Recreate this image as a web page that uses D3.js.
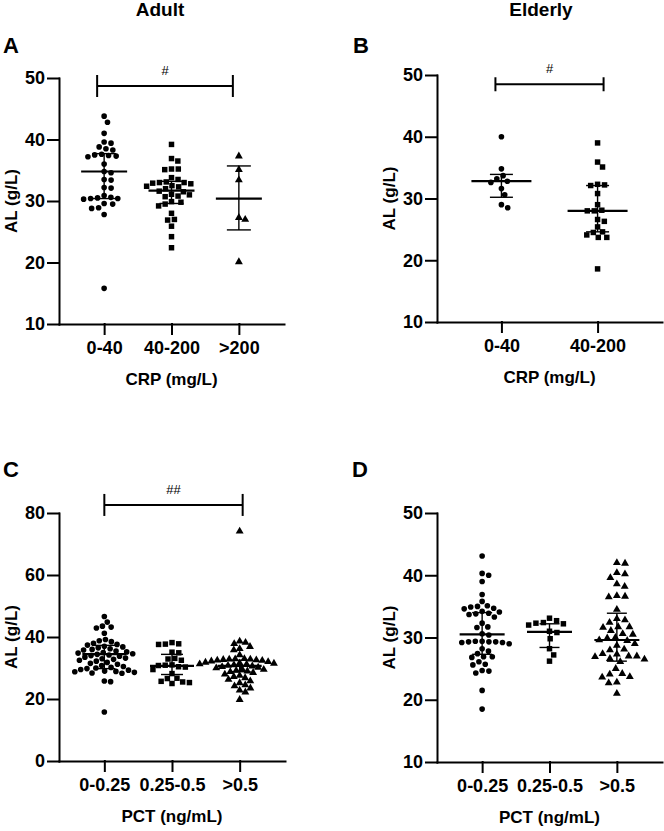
<!DOCTYPE html>
<html lang="en">
<head>
<meta charset="UTF-8">
<script src="https://cdn.jsdelivr.net/npm/d3@7"></script>
<title>AL by CRP / PCT</title>
<style>
    body{ margin:0; background:#fff; }
    svg text{ font-family: Arial, "Liberation Sans", sans-serif; font-weight: bold; fill:#000; }
    .axis path, .axis line{ stroke:#000; stroke-width:2px; stroke-linecap:square; }
    .axis text{ font-size:18px; }
</style>
</head>
<body>
<svg id="chart" width="664" height="831"></svg>
<script>
    // categories
    var crpAdultCats = ["0-40", "40-200", ">200"];
    var crpElderCats = ["0-40", "40-200"];
    var pctCats = ["0-0.25", "0.25-0.5", ">0.5"];

    // A: adult, CRP
    var adultCrp040 = [43.8, 42.8, 41.0, 39.6, 39.4, 38.8, 38.5, 38.3, 37.6, 37.5, 37.4, 37.3, 37.2, 36.0, 34.8, 34.6,
        33.5, 33.4, 32.2, 32.1, 30.9, 30.6, 30.5, 30.4, 30.4, 30.3, 29.6, 29.5, 28.9, 28.8, 27.8, 15.8];
    var adultCrp40200 = [39.2, 36.9, 36.5, 35.2, 35.2, 35.1, 33.8, 33.5, 33.1, 33.0, 33.0, 32.9, 32.8, 32.5, 32.4, 32.3,
        32.0, 31.6, 31.5, 31.1, 31.0, 30.8, 30.7, 29.9, 29.8, 29.5, 29.2, 28.0, 27.0, 26.9, 25.9, 24.2, 22.4];
    var adultCrp200 = [37.3, 35.1, 33.4, 27.3, 27.0, 20.1];
    var adultCrpMid = [34.8, 31.7, 30.4];
    var adultCrpLow = [30.4, 29.6, 25.3];
    var adultCrpHigh = [37.7, 33.2, 35.7];

    // B: elderly, CRP
    var elderCrp040 = [40.0, 34.8, 33.7, 33.2, 32.8, 32.6, 31.6, 30.6, 29.0, 28.5];
    var elderCrp40200 = [39.0, 35.9, 35.1, 32.3, 32.2, 32.1, 30.8, 29.0, 28.1, 28.0, 28.0, 26.6, 26.3, 25.4, 24.6, 24.5,
        24.1, 23.7, 23.7, 18.6];
    var elderCrpMid = [32.8, 28.0];
    var elderCrpLow = [30.2, 24.6];
    var elderCrpHigh = [33.9, 32.1];

    // C: adult, PCT
    var adultPct1 = [46.6, 44.8, 43.5, 43.2, 42.9, 41.2, 39.2, 38.8, 38.5, 38.0, 37.6, 37.4, 37.0, 36.8, 36.5, 36.2, 36.0,
        35.8, 35.5, 35.2, 35.0, 34.8, 34.6, 34.4, 34.2, 34.0, 33.8, 33.5, 33.2, 33.0, 32.8, 32.5, 32.2, 31.8, 31.5, 31.2,
        30.8, 30.5, 30.2, 30.0, 29.8, 29.5, 29.3, 29.0, 28.9, 28.8, 28.6, 28.4, 28.3, 25.8, 25.6, 15.8];
    var adultPct2 = [38.2, 37.8, 37.7, 37.6, 35.1, 34.9, 33.1, 32.9, 32.5, 31.0, 30.9, 30.8, 30.4, 30.3, 29.5, 28.2, 26.7,
        26.6, 25.7, 25.5, 25.3, 25.0];
    var adultPct3 = [74.1, 38.6, 38.2, 37.8, 36.9, 36.2, 35.8, 34.2, 33.0, 32.9, 32.8, 32.8, 32.7, 32.6, 32.5, 32.4, 32.2,
        32.0, 31.8, 31.6, 31.5, 31.3, 31.2, 31.0, 30.8, 30.6, 30.4, 30.2, 30.0, 29.8, 29.5, 29.2, 29.0, 28.8, 28.5, 28.0,
        27.6, 27.2, 26.8, 26.3, 25.8, 25.2, 24.5, 24.2, 23.5, 22.8, 22.2, 19.8];
    var adultPctMid = [34.5, 30.7, 30.7];
    var adultPctLow = [29.8, 27.9, 28.8];
    var adultPctHigh = [37.3, 34.4, 32.5];

    // D: elderly, PCT
    var elderPct1 = [43.1, 40.3, 40.0, 39.0, 36.9, 35.8, 35.1, 35.0, 34.9, 34.7, 34.6, 34.2, 34.1, 33.9, 33.8, 33.7, 33.3,
        32.3, 31.7, 31.6, 30.6, 30.4, 29.4, 29.3, 29.3, 29.2, 29.3, 29.4, 29.2, 29.0, 28.2, 27.8, 27.4, 26.9, 26.9, 26.8,
        26.1, 25.7, 25.6, 24.7, 24.6, 24.3, 21.5, 18.5];
    var elderPct2 = [33.1, 32.7, 32.4, 32.3, 32.2, 32.0, 31.0, 30.8, 29.8, 28.2, 27.2, 26.2];
    var elderPct3 = [42.0, 41.9, 40.4, 40.2, 39.6, 38.6, 38.2, 36.7, 36.6, 36.5, 34.5, 33.0, 32.8, 32.4, 31.7, 31.7, 31.6,
        31.1, 30.6, 30.5, 30.0, 29.9, 29.6, 29.5, 29.0, 28.7, 28.1, 28.0, 27.4, 27.3, 27.0, 27.0, 26.9, 26.6, 26.5, 26.1,
        25.0, 24.2, 24.1, 23.7, 23.6, 22.8, 22.7, 21.0];
    var elderPctMid = [30.5, 30.9, 29.6];
    var elderPctLow = [27.3, 28.4, 26.2];
    var elderPctHigh = [34.0, 32.2, 33.9];

    var ticks10to50 = [10, 20, 30, 40, 50];
    var ticks0to80 = [0, 20, 40, 60, 80];

    var shapes = [d3.symbolCircle, d3.symbolSquare, d3.symbolTriangle];
    var shapeSize = [25, 30, 27];

    var svg = d3.select("#chart");

    // simple beeswarm: put each point as near the centre as it can go without overlap
    function swarm(vals, y, d) {
        var order = vals.map(function(v, i){ return i; }).sort(function(a, b){ return vals[b] - vals[a]; });
        var placed = [], out = [];
        order.forEach(function(i) {
            var py = y(vals[i]);
            var cand = [0];
            placed.forEach(function(p) {
                var dy = Math.abs(p.y - py);
                if (dy < d) {
                    var dx = Math.sqrt(d * d - dy * dy);
                    cand.push(p.x + dx, p.x - dx);
                }
            });
            cand.sort(function(a, b){ return Math.abs(a) - Math.abs(b) || b - a; });
            var px = cand.find(function(c) {
                return placed.every(function(p){
                    return (p.x - c) * (p.x - c) + (p.y - py) * (p.y - py) >= d * d - 0.01;
                });
            });
            placed.push({x: px, y: py});
            out.push({v: vals[i], dx: px});
        });
        return out;
    }

    function panel(p) {
        var x = d3.scalePoint().domain(p.cats).range([p.left, p.right]).padding(0.67);
        var y = d3.scaleLinear().domain(p.domain).range([p.bottom, p.top]);
        var g = svg.append("g");

        g.append("g")
            .attr("class", "axis")
            .attr("transform", "translate(0," + p.bottom + ")")
            .call(d3.axisBottom(x).tickSize(10).tickSizeOuter(0).tickPadding(7));

        g.append("g")
            .attr("class", "axis")
            .attr("transform", "translate(" + p.left + ",0)")
            .call(d3.axisLeft(y).tickValues(p.ticks).tickSize(11).tickSizeOuter(0).tickPadding(3));

        g.append("text")
            .attr("transform", "translate(" + (p.left - 48) + "," + ((p.top + p.bottom) / 2) + ") rotate(-90)")
            .attr("text-anchor", "middle")
            .attr("dy", "0.36em")
            .style("font-size", "17px")
            .text("AL (g/L)");

        g.append("text")
            .attr("x", (p.left + p.right) / 2)
            .attr("y", p.bottom + 61)
            .attr("text-anchor", "middle")
            .style("font-size", "17px")
            .text(p.xTitle);

        p.groups.forEach(function(vals, k) {
            var cx = x(p.cats[k]);
            var pts = swarm(vals, y, p.gap[k]);
            g.append("g").selectAll("path")
                .data(pts)
                .enter().append("path")
                .attr("d", d3.symbol().type(shapes[k]).size(shapeSize[k]))
                .attr("transform", function(d){ return "translate(" + (cx + d.dx) + "," + y(d.v) + ")"; })
                .attr("fill", "#000");

            var sg = g.append("g").attr("stroke", "#000");
            sg.append("line")
                .attr("x1", cx).attr("x2", cx)
                .attr("y1", y(p.low[k])).attr("y2", y(p.high[k]))
                .attr("stroke-width", 1.4);
            [p.low[k], p.high[k]].forEach(function(v) {
                sg.append("line")
                    .attr("x1", cx - p.capHalf).attr("x2", cx + p.capHalf)
                    .attr("y1", y(v)).attr("y2", y(v))
                    .attr("stroke-width", 1.4);
            });
            sg.append("line")
                .attr("x1", cx - p.midHalf).attr("x2", cx + p.midHalf)
                .attr("y1", y(p.mid[k])).attr("y2", y(p.mid[k]))
                .attr("stroke-width", 2.2);
        });

        if (p.bracket) {
            var b = p.bracket;
            var bx0 = x(p.cats[b.from]) + b.dx0, bx1 = x(p.cats[b.to]) + b.dx1, by = y(b.at);
            var bg = g.append("g").attr("stroke", "#000").attr("stroke-width", 2);
            bg.append("line").attr("x1", bx0).attr("x2", bx1).attr("y1", by).attr("y2", by);
            [bx0, bx1].forEach(function(bx) {
                bg.append("line").attr("x1", bx).attr("x2", bx).attr("y1", by - b.tick).attr("y2", by + b.tick);
            });
            g.append("text")
                .attr("x", (bx0 + bx1) / 2)
                .attr("y", by - 11)
                .attr("text-anchor", "middle")
                .style("font-size", "13px")
                .style("font-weight", "normal")
                .text(b.label);
        }
    }

    panel({
        left: 59, right: 284, top: 78, bottom: 324, domain: [10, 50], ticks: ticks10to50,
        cats: crpAdultCats, groups: [adultCrp040, adultCrp40200, adultCrp200],
        mid: adultCrpMid, low: adultCrpLow, high: adultCrpHigh,
        gap: [7, 6.8, 6.6], midHalf: 23, capHalf: 12, xTitle: "CRP (mg/L)",
        bracket: {from: 0, to: 2, at: 48.7, dx0: -7, dx1: -6, tick: 11, label: "#"}
    });
    panel({
        left: 437, right: 662, top: 75, bottom: 322, domain: [10, 50], ticks: ticks10to50,
        cats: crpElderCats, groups: [elderCrp040, elderCrp40200],
        mid: elderCrpMid, low: elderCrpLow, high: elderCrpHigh,
        gap: [7, 7], midHalf: 30, capHalf: 11.5, xTitle: "CRP (mg/L)",
        bracket: {from: 0, to: 1, at: 48.5, dx0: -6, dx1: 6, tick: 7, label: "#"}
    });
    panel({
        left: 59, right: 285, top: 513, bottom: 761, domain: [0, 80], ticks: ticks0to80,
        cats: pctCats, groups: [adultPct1, adultPct2, adultPct3],
        mid: adultPctMid, low: adultPctLow, high: adultPctHigh,
        gap: [6.3, 6.8, 6.0], midHalf: 22, capHalf: 11, xTitle: "PCT (ng/mL)",
        bracket: {from: 0, to: 2, at: 82.6, dx0: 0, dx1: 3, tick: 11, label: "##"}
    });
    panel({
        left: 437, right: 662, top: 513, bottom: 762, domain: [10, 50], ticks: ticks10to50,
        cats: pctCats, groups: [elderPct1, elderPct2, elderPct3],
        mid: elderPctMid, low: elderPctLow, high: elderPctHigh,
        gap: [6.8, 7.5, 8.2], midHalf: 22.5, capHalf: 10, xTitle: "PCT (ng/mL)"
    });

    // headings and panel letters
    svg.append("text").attr("x", 160).attr("y", 16).attr("text-anchor", "middle")
        .style("font-size", "19px").text("Adult");
    svg.append("text").attr("x", 541).attr("y", 16).attr("text-anchor", "middle")
        .style("font-size", "19px").text("Elderly");
    [["A", 3, 53], ["B", 353, 53], ["C", 3, 477], ["D", 352, 477]].forEach(function(l) {
        svg.append("text").attr("x", l[1]).attr("y", l[2]).style("font-size", "22px").text(l[0]);
    });
</script>
</body>
</html>
